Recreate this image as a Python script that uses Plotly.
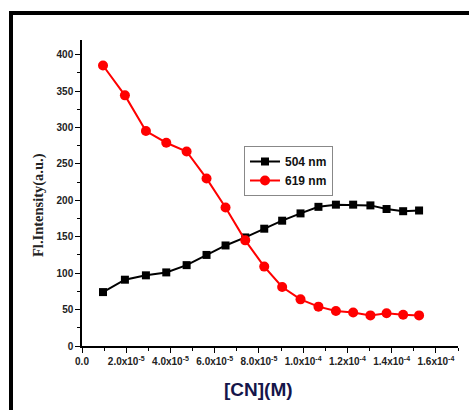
import plotly.graph_objects as go

# Cyanide concentration (M) and fluorescence intensity at the two emission bands
conc = [0.95e-5, 1.94e-5, 2.89e-5, 3.81e-5, 4.73e-5, 5.63e-5, 6.49e-5, 7.38e-5, 8.24e-5,
        9.05e-5, 9.88e-5, 10.69e-5, 11.48e-5, 12.26e-5, 13.04e-5, 13.77e-5, 14.52e-5, 15.24e-5]
em_504 = [74, 91, 97, 101, 111, 125, 138, 149, 161, 172, 182, 191, 194, 194, 193, 188, 185, 186]
em_619 = [385, 344, 295, 279, 267, 230, 190, 145, 109, 81, 64, 54, 48, 46, 42, 45, 43, 42]

x_tickvals = [0, 2e-5, 4e-5, 6e-5, 8e-5, 1e-4, 1.2e-4, 1.4e-4, 1.6e-4]
x_ticktext = ["0.0", "2.0x10<sup>-5</sup>", "4.0x10<sup>-5</sup>", "6.0x10<sup>-5</sup>",
              "8.0x10<sup>-5</sup>", "1.0x10<sup>-4</sup>", "1.2x10<sup>-4</sup>",
              "1.4x10<sup>-4</sup>", "1.6x10<sup>-4</sup>"]

W, H = 469, 410
L, R, T, B = 82, 11, 40, 64
pw, ph = W - L - R, H - T - B


def px(x):
    return (x - L) / pw


def py(y):
    return (H - B - y) / ph


fig = go.Figure()
fig.add_trace(go.Scatter(
    x=conc, y=em_504, name="504 nm", mode="lines+markers",
    line=dict(color="#000000", width=2),
    marker=dict(symbol="square", size=8, color="#000000"),
))
fig.add_trace(go.Scatter(
    x=conc, y=em_619, name="619 nm", mode="lines+markers",
    line=dict(color="#ff0000", width=2),
    marker=dict(symbol="circle", size=10, color="#ff0000"),
))

fig.update_xaxes(
    range=[0, 1.7e-4], tickmode="array", tickvals=x_tickvals, ticktext=x_ticktext,
    showline=True, linecolor="#000000", linewidth=1.5, showgrid=False, zeroline=False,
    ticks="outside", ticklen=5, tickwidth=1.2, tickcolor="#000000",
    tickfont=dict(family="Liberation Sans, Arial", size=10, color="#222222", weight="bold"),
    minor=dict(tickmode="linear", tick0=0, dtick=1e-5, ticks="outside", ticklen=3,
               tickwidth=1, tickcolor="#000000", showgrid=False),
)
fig.update_yaxes(
    range=[0, 420], tickmode="linear", tick0=0, dtick=50,
    showline=True, linecolor="#000000", linewidth=1.5, showgrid=False, zeroline=False,
    ticks="outside", ticklen=5, tickwidth=1.2, tickcolor="#000000",
    tickfont=dict(family="Liberation Sans, Arial", size=10, color="#222222", weight="bold"),
    minor=dict(tickmode="linear", tick0=0, dtick=25, ticks="outside", ticklen=3,
               tickwidth=1, tickcolor="#000000", showgrid=False),
)

fig.update_layout(
    width=W, height=H,
    margin=dict(l=L, r=R, t=T, b=B),
    paper_bgcolor="#ffffff", plot_bgcolor="#ffffff",
    showlegend=True,
    legend=dict(
        x=px(244), y=py(146), xanchor="left", yanchor="top",
        bgcolor="#ffffff", bordercolor="#888888", borderwidth=1,
        font=dict(family="Liberation Sans, Arial", size=12, color="#111111", weight="bold"),
        itemwidth=30, tracegroupgap=0,
    ),
    annotations=[
        dict(text="Fl.Intensity(a.u.)", xref="paper", yref="paper",
             x=px(38), y=py(205), textangle=-90, showarrow=False,
             xanchor="center", yanchor="middle",
             font=dict(family="Liberation Serif, Times New Roman", size=14.5,
                       color="#222222", weight="bold")),
        dict(text="[CN](M)", xref="paper", yref="paper",
             x=px(258), y=py(389), showarrow=False,
             xanchor="center", yanchor="middle",
             font=dict(family="Liberation Sans, Arial", size=19,
                       color="#15154a", weight="bold")),
    ],
    shapes=[
        # black frame along the top and left edges of the figure
        dict(type="rect", xref="paper", yref="paper",
             x0=px(9), x1=px(W + 2), y0=py(15), y1=py(11),
             fillcolor="#000000", line=dict(width=0), layer="above"),
        dict(type="rect", xref="paper", yref="paper",
             x0=px(9), x1=px(13), y0=py(H + 2), y1=py(11),
             fillcolor="#000000", line=dict(width=0), layer="above"),
    ],
)

fig.write_html("out.html")
